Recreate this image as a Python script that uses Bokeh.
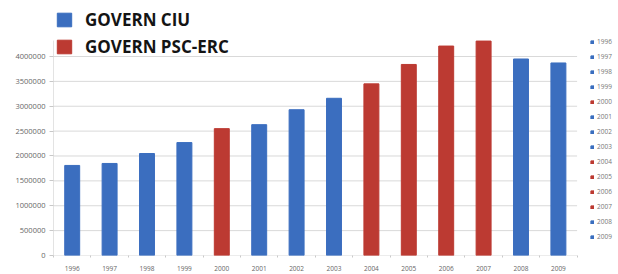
from bokeh.plotting import figure
from bokeh.models import (ColumnDataSource, Range1d, Legend, LegendItem,
                          FixedTicker, BasicTickFormatter)
from bokeh.embed import file_html
from bokeh.resources import INLINE

years = ["1996", "1997", "1998", "1999", "2000", "2001", "2002", "2003",
         "2004", "2005", "2006", "2007", "2008", "2009"]
values = [1810000, 1850000, 2050000, 2270000, 2550000, 2630000, 2930000, 3160000,
          3450000, 3840000, 4210000, 4310000, 3950000, 3870000]
government = ["CIU", "CIU", "CIU", "CIU", "PSC-ERC", "CIU", "CIU", "CIU",
              "PSC-ERC", "PSC-ERC", "PSC-ERC", "PSC-ERC", "CIU", "CIU"]
series_labels = {"CIU": "GOVERN CIU", "PSC-ERC": "GOVERN PSC-ERC"}
series_colors = {"CIU": "#3b6ebf", "PSC-ERC": "#bc3a32"}
y_ticks = [0, 500000, 1000000, 1500000, 2000000, 2500000, 3000000, 3500000, 4000000]

n = len(years)
xpos = list(range(n))
colors = [series_colors[g] for g in government]
src = ColumnDataSource(dict(x=xpos, year=years, value=values, color=colors))

p = figure(x_range=Range1d(-0.5, 14.607), y_range=Range1d(0, 5125600),
           frame_width=565, frame_height=255,
           min_border_left=53, min_border_right=0, min_border_top=0, min_border_bottom=19,
           output_backend="svg", toolbar_location=None, background_fill_color="white",
           border_fill_color="white", outline_line_color=None)

# gridlines and axis lines (limited to the category area)
p.segment(x0=[-0.5] * len(y_ticks), x1=[n - 0.5] * len(y_ticks), y0=y_ticks, y1=y_ticks,
          line_color="#d9d9d9", line_width=1)
p.segment(x0=[-0.5], x1=[-0.5], y0=[0], y1=[4320000], line_color="#c8c8c8", line_width=1)

r = p.vbar(x="x", top="value", width=0.4, color="color", source=src)

# y axis
p.yaxis.ticker = FixedTicker(ticks=y_ticks)
p.yaxis.formatter = BasicTickFormatter(use_scientific=False)
p.yaxis.major_label_text_font_size = "7.5px"
p.yaxis.major_label_text_color = "#666666"
p.yaxis.major_label_text_font = "Open Sans"
p.yaxis.axis_line_color = None
p.yaxis.major_tick_line_color = "#c8c8c8"
p.yaxis.major_tick_out = 4
p.yaxis.major_tick_in = 0
p.yaxis.minor_tick_line_color = None
p.yaxis.minor_tick_out = 0
p.yaxis.major_label_standoff = 4

# x axis
p.xaxis.ticker = FixedTicker(ticks=xpos, minor_ticks=[i - 0.5 for i in range(n + 1)])
p.xaxis.major_label_overrides = {i: y for i, y in zip(xpos, years)}
p.xaxis.major_label_text_font_size = "6.5px"
p.xaxis.major_label_text_color = "#666666"
p.xaxis.major_label_text_font = "Open Sans"
p.xaxis.axis_line_color = None
p.xaxis.major_tick_line_color = None
p.xaxis.major_tick_out = 0
p.xaxis.major_tick_in = 0
p.xaxis.minor_tick_line_color = "#c8c8c8"
p.xaxis.minor_tick_out = 2
p.xaxis.minor_tick_in = 0
p.xaxis.major_label_standoff = 8

p.xgrid.grid_line_color = None
p.ygrid.grid_line_color = None

# big legend top-left
first_idx = {g: government.index(g) for g in ["CIU", "PSC-ERC"]}
big_items = [LegendItem(label=series_labels[g], renderers=[r], index=first_idx[g])
             for g in ["CIU", "PSC-ERC"]]
big = Legend(items=big_items, location=(2, 197), padding=0, margin=0,
             border_line_color=None, background_fill_alpha=0,
             glyph_width=18, glyph_height=17, label_height=20, spacing=4,
             label_standoff=12, label_text_font="Open Sans",
             label_text_font_style="bold", label_text_font_size="17px",
             label_text_color="#141414")
p.add_layout(big)

# year legend on the right
yr_items = [LegendItem(label=y, renderers=[r], index=i) for i, y in enumerate(years)]
yl = Legend(items=yr_items, location=(537, 13), padding=0, margin=0,
            border_line_color=None, background_fill_alpha=0,
            glyph_width=4, glyph_height=4, label_height=11, spacing=4,
            label_standoff=3, label_text_font="Open Sans",
            label_text_font_size="6.5px", label_text_color="#777777")
p.add_layout(yl)

open("out.html", "w").write(file_html(p, INLINE))
